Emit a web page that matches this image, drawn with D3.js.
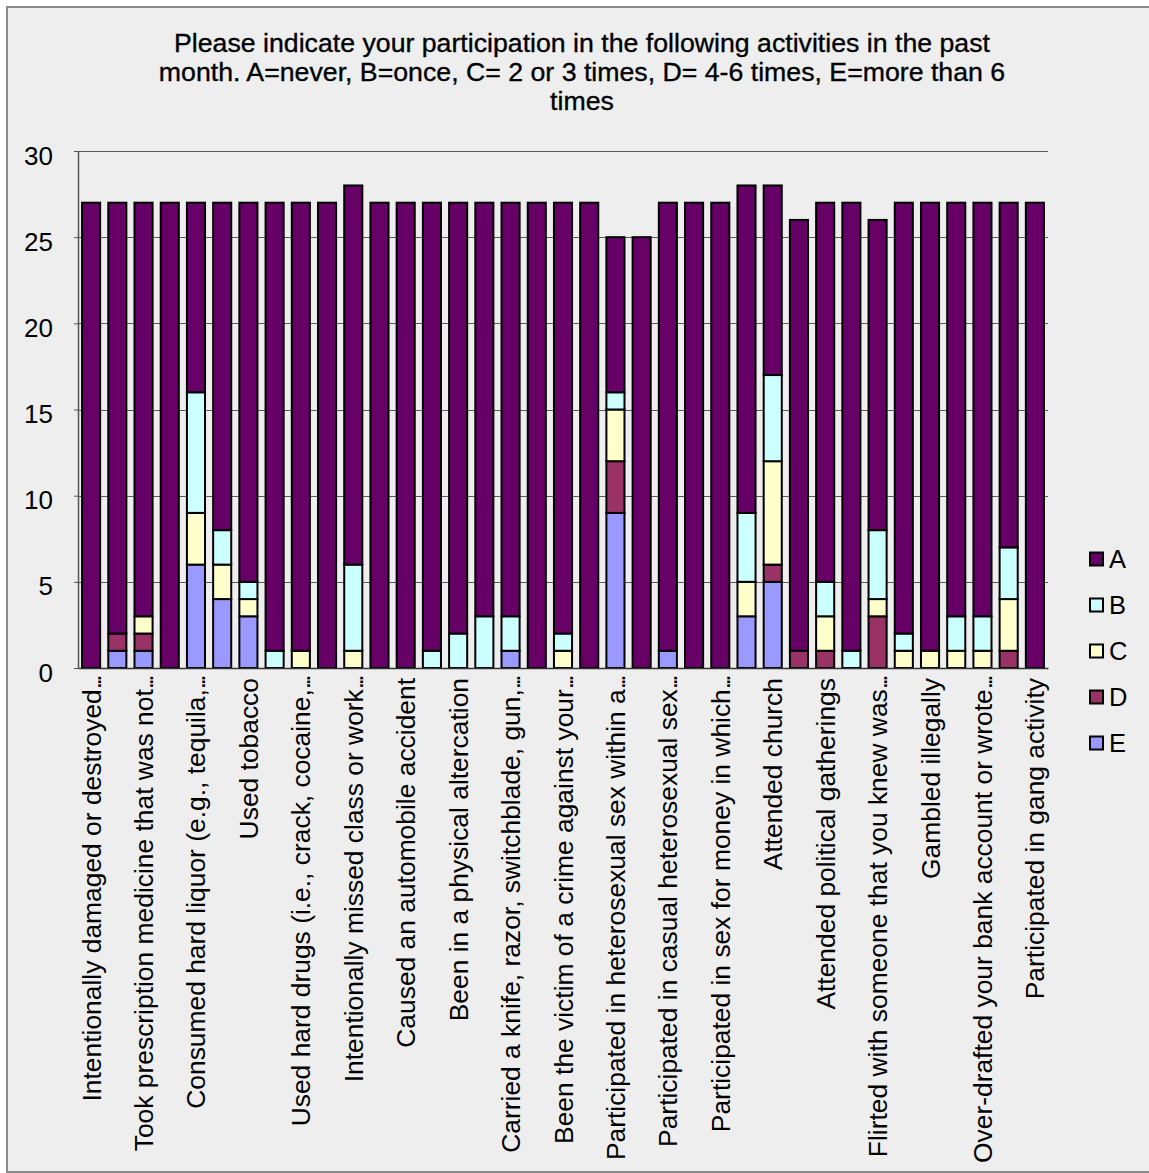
<!DOCTYPE html>
<html>
<head>
<meta charset="utf-8">
<script src="https://cdn.jsdelivr.net/npm/d3@7"></script>
<style>
  html, body { margin: 0; padding: 0; background: #ffffff; }
  svg { display: block; font-family: "Liberation Sans", Arial, Helvetica, sans-serif; }
</style>
</head>
<body>
<svg id="chart" width="1149" height="1173"></svg>
<script>
// Survey items (every other one is labelled on the axis)
const categories = [
  "Intentionally damaged or destroyed...",
  "Shoplifted or stole something",
  "Took prescription medicine that was not...",
  "Consumed beer or wine",
  "Consumed hard liquor (e.g., tequila,...",
  "Been drunk",
  "Used tobacco",
  "Used marijuana",
  "Used hard drugs (i.e., crack, cocaine,...",
  "Driven after drinking",
  "Intentionally missed class or work...",
  "Cheated on an exam",
  "Caused an automobile accident",
  "Received a traffic ticket",
  "Been in a physical altercation",
  "Been in a verbal argument",
  "Carried a knife, razor, switchblade, gun,...",
  "Been arrested",
  "Been the victim of a crime against your...",
  "Participated in a protest",
  "Participated in heterosexual sex within a...",
  "Used protection during sex",
  "Participated in casual heterosexual sex...",
  "Participated in online dating",
  "Participated in sex for money in which...",
  "Volunteered in the community",
  "Attended church",
  "Donated money to charity",
  "Attended political gatherings",
  "Voted in an election",
  "Flirted with someone that you knew was...",
  "Lied to a friend or family member",
  "Gambled illegally",
  "Bought a lottery ticket",
  "Over-drafted your bank account or wrote...",
  "Used a credit card to pay a bill",
  "Participated in gang activity"
];

// Response counts per item
const seriesA = [27,25,24,27,11,19,22,26,26,27,22,27,27,26,25,24,24,27,25,27,9,25,26,27,27,19,11,25,22,26,18,25,26,24,24,20,27];
const seriesB = [0,0,0,0,7,2,1,1,0,0,5,0,0,1,2,3,2,0,1,0,1,0,0,0,0,4,5,0,2,1,4,1,0,2,2,3,0];
const seriesC = [0,0,1,0,3,2,1,0,1,0,1,0,0,0,0,0,0,0,1,0,3,0,0,0,0,2,6,0,2,0,1,1,1,1,1,3,0];
const seriesD = [0,1,1,0,0,0,0,0,0,0,0,0,0,0,0,0,0,0,0,0,3,0,0,0,0,0,1,1,1,0,3,0,0,0,0,1,0];
const seriesE = [0,1,1,0,6,4,3,0,0,0,0,0,0,0,0,0,1,0,0,0,9,0,1,0,0,3,5,0,0,0,0,0,0,0,0,0,0];

const legendKeys = ["A","B","C","D","E"];
const stackKeys = ["E","D","C","B","A"];
const colors = { A: "#660066", B: "#CCFFFF", C: "#FFFFCC", D: "#993366", E: "#9999FF" };
const yTicks = [0,5,10,15,20,25,30];
const titleLines = [
  "Please indicate your participation in the following activities in the past",
  "month. A=never, B=once, C= 2 or 3 times, D= 4-6 times, E=more than 6",
  "times"
];

const rows = categories.map((c, i) => ({
  category: c,
  A: seriesA[i], B: seriesB[i], C: seriesC[i], D: seriesD[i], E: seriesE[i]
}));

const svg = d3.select("#chart");
const W = 1149, H = 1173;
const plot = { left: 78, right: 1048, top: 151, bottom: 668 };

// chart area
svg.append("rect")
  .attr("x", 7).attr("y", 7)
  .attr("width", W + 10).attr("height", H - 8)
  .attr("fill", "#EEEEEE")
  .attr("stroke", "#8a8a8a").attr("stroke-width", 2);

// title
const title = svg.append("g").attr("class", "title");
titleLines.forEach((line, i) => {
  title.append("text")
    .attr("x", 582)
    .attr("y", 52 + i * 29)
    .attr("text-anchor", "middle")
    .attr("font-size", 26.7)
    .attr("fill", "#000")
    .attr("stroke", "#000")
    .attr("stroke-width", 0.35)
    .text(line);
});

const x = d3.scaleBand()
  .domain(categories)
  .range([plot.left, plot.right])
  .paddingInner(0.31)
  .paddingOuter(0.155);

const y = d3.scaleLinear()
  .domain([0, 30])
  .range([plot.bottom, plot.top]);

// gridlines
svg.append("g").attr("class", "grid")
  .selectAll("line")
  .data(yTicks.filter(t => t > 0))
  .join("line")
  .attr("x1", plot.left).attr("x2", plot.right)
  .attr("y1", d => Math.round(y(d)) + 0.5)
  .attr("y2", d => Math.round(y(d)) + 0.5)
  .attr("stroke", "#5a5a5a").attr("stroke-width", 1);

// y axis
const yAxis = svg.append("g")
  .attr("transform", `translate(${plot.left},0)`)
  .call(d3.axisLeft(y).tickValues(yTicks).tickSize(4).tickSizeOuter(0));
yAxis.select(".domain").attr("stroke", "#555").attr("stroke-width", 1.5);
yAxis.selectAll(".tick line").attr("stroke", "#555");
yAxis.selectAll(".tick text")
  .attr("font-size", 26)
  .attr("font-family", "\"Liberation Sans\", Arial, sans-serif")
  .attr("fill", "#000")
  .attr("x", -25)
  .attr("dy", "0.5em");

// stacked bars
const stacked = d3.stack().keys(stackKeys)(rows);
svg.append("g").attr("class", "bars")
  .selectAll("g")
  .data(stacked)
  .join("g")
  .attr("fill", d => colors[d.key])
  .selectAll("rect")
  .data(d => d.filter(s => s[1] - s[0] > 0))
  .join("rect")
  .attr("x", d => x(d.data.category))
  .attr("width", x.bandwidth())
  .attr("y", d => y(d[1]))
  .attr("height", d => y(d[0]) - y(d[1]))
  .attr("stroke", "#000")
  .attr("stroke-width", 2);

// x axis with every other item labelled; truncated names get a tight ellipsis
const xAxis = svg.append("g")
  .attr("transform", `translate(0,${plot.bottom})`)
  .call(d3.axisBottom(x)
    .tickValues(categories.filter((d, i) => i % 2 === 0))
    .tickSize(0)
    .tickSizeOuter(0));
xAxis.select(".domain").attr("stroke", "#333").attr("stroke-width", 1.5);
xAxis.selectAll(".tick text")
  .attr("font-size", 26.4)
  .attr("font-family", "\"Liberation Sans\", Arial, sans-serif")
  .attr("fill", "#000")
  .attr("text-anchor", "end")
  .attr("transform", "rotate(-90)")
  .attr("x", -10)
  .attr("y", 0)
  .attr("dy", "0.36em")
  .each(function (d) {
    const t = d3.select(this);
    if (d.endsWith("...")) {
      t.text(null);
      t.append("tspan").text(d.slice(0, -3));
      t.append("tspan").attr("letter-spacing", "-3.6px").text("...");
    }
  });

// legend
const legend = svg.append("g").attr("class", "legend");
legendKeys.forEach((k, i) => {
  const cy = 559 + i * 46;
  legend.append("rect")
    .attr("x", 1090).attr("y", cy - 6.5)
    .attr("width", 13).attr("height", 13)
    .attr("fill", colors[k])
    .attr("stroke", "#000").attr("stroke-width", 2);
  legend.append("text")
    .attr("x", 1109)
    .attr("y", cy + 9)
    .attr("font-size", 25.5)
    .attr("fill", "#000")
    .text(k);
});
</script>
</body>
</html>
